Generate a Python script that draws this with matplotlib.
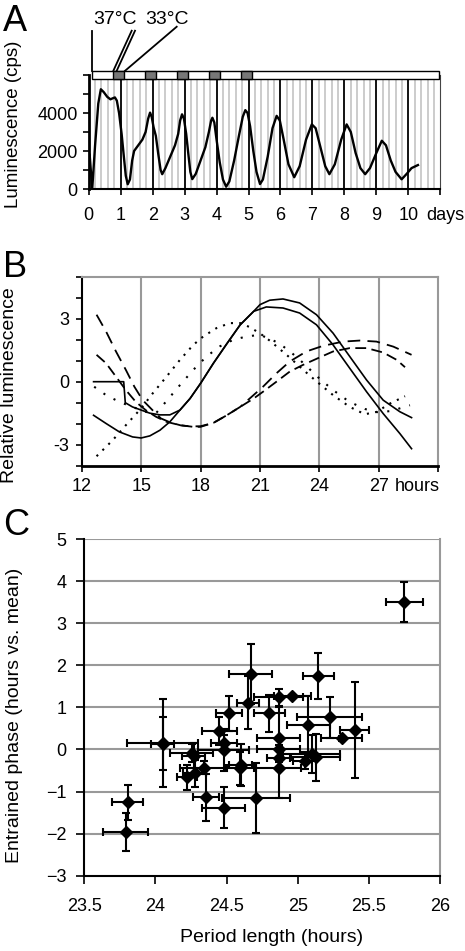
import numpy as np
import matplotlib
matplotlib.use("Agg")
import matplotlib.pyplot as plt
from matplotlib.patches import Rectangle

plt.rcParams['font.family'] = ['Liberation Sans', 'DejaVu Sans']

# ---- panel A: luminescence trace (days, cps)
days = [0.03, 0.11, 0.2, 0.3, 0.38, 0.47, 0.58, 0.68, 0.76, 0.82, 0.88, 0.95,
        1.03, 1.1, 1.16, 1.22, 1.29, 1.36, 1.42, 1.55, 1.68, 1.78, 1.86, 1.92,
        1.97, 2.03, 2.1, 2.18, 2.25, 2.3, 2.4, 2.55, 2.7, 2.8, 2.86, 2.92, 2.98,
        3.05, 3.12, 3.18, 3.24, 3.35, 3.5, 3.65, 3.76, 3.83, 3.87, 3.93, 4.0,
        4.1, 4.2, 4.3, 4.4, 4.55, 4.7, 4.82, 4.9, 4.97, 5.05, 5.15, 5.25, 5.36,
        5.45, 5.6, 5.75, 5.88, 5.98, 6.1, 6.25, 6.43, 6.6, 6.8, 6.98, 7.1, 7.25,
        7.4, 7.53, 7.7, 7.9, 8.07, 8.2, 8.35, 8.5, 8.65, 8.8, 9.0, 9.17, 9.3,
        9.45, 9.6, 9.79, 9.95, 10.1, 10.3]
lum = [1800, 0, 2300, 4500, 5250, 5100, 4850, 4720, 4780, 4820, 4650, 4000,
       2900, 1700, 700, 250, 500, 1500, 2000, 2300, 2600, 3000, 3700, 4020,
       3800, 3250, 2800, 1800, 1000, 780, 1100, 1700, 2300, 2900, 3600, 3930, 3700,
       2900, 1800, 900, 520, 800, 1500, 2200, 3000, 3600, 3750, 3500, 2600,
       1400, 500, 120, 400, 1500, 2800, 3800, 4150, 4000, 3300, 2000, 900, 260,
       500, 1700, 3200, 3850, 3600, 2600, 1300, 620, 1200, 2600, 3400, 3200, 2200,
       1200, 780, 1300, 2600, 3400, 3000, 1900, 1100, 780, 1100, 1900, 2540, 2300,
       1500, 900, 510, 800, 1100, 1260]
warm_start = [0.76, 1.76, 2.76, 3.76, 4.76]   # 37 C pulses (days)
warm_len = 0.36

# ---- panel B: relative luminescence traces (hours)
s1_t = [12.6, 14.12, 14.2, 14.56, 15.0, 15.44, 15.95, 16.45, 16.96, 17.47, 18.0, 18.65,
        19.32, 20.0, 20.68, 21.0, 21.49, 22.16, 23.0, 23.85, 24.69, 25.53, 26.38,
        27.22, 28.06, 28.65]
s1_y = [0.0, 0.0, -1.0, -1.2, -1.35, -1.5, -1.58, -1.58, -1.35, -0.8, -0.08, 0.88,
        1.8, 2.71, 3.35, 3.67, 3.88, 3.94, 3.75, 3.19, 2.31, 1.2, 0.08,
        -0.88, -1.43, -1.71]
s2_t = [12.6, 13.23, 13.9, 14.57, 15.0, 15.44, 15.95, 16.45, 16.96, 17.47, 18.0, 18.65,
        19.32, 20.0, 20.68, 21.32, 22.16, 23.0, 23.85, 24.69, 25.53, 26.38, 27.22,
        28.06, 28.65]
s2_y = [-1.6, -1.99, -2.39, -2.63, -2.68, -2.58, -2.31, -1.91, -1.35, -0.8, -0.08, 0.88,
        1.8, 2.71, 3.35, 3.56, 3.51, 3.27, 2.71, 1.75, 0.64, -0.48, -1.52,
        -2.47, -3.19]
d1_t = [12.75, 13.56, 14.23, 15.0, 15.58, 16.28, 16.96, 17.63, 18.13, 18.8, 19.47, 20.0,
        20.48, 21.0, 21.5, 22.0, 22.5, 23.0, 23.5, 24.0, 24.69, 25.53, 26.29, 26.88,
        27.56, 28.32]
d1_y = [-3.55, -2.79, -2.07, -1.27, -0.56, 0.24, 1.04, 1.75, 2.15, 2.55, 2.79, 2.79,
        2.6, 2.3, 1.95, 1.55, 1.15, 0.72, 0.3, -0.1, -0.64, -1.2, -1.55, -1.44,
        -1.04, -0.69]
d2_t = [12.63, 13.23, 13.9, 14.56, 15.24, 15.75, 16.3, 16.96, 17.63, 18.3, 18.97, 19.64,
        20.3, 20.97, 21.5, 22.0, 22.5, 23.0, 23.5, 24.0, 24.69, 25.5, 26.3, 26.9,
        27.6, 28.57]
d2_y = [-0.24, -0.64, -0.96, -1.2, -1.44, -1.5, -0.9, -0.16, 0.56, 1.2, 1.68, 1.99,
        2.15, 2.23, 2.05, 1.8, 1.45, 1.05, 0.6, 0.15, -0.4, -0.95, -1.3, -1.45,
        -1.4, -1.12]
l1_t = [12.75, 13.23, 13.73, 14.23, 14.66, 15.08, 15.58, 16.0, 16.5, 17.0, 17.5, 18.0,
        18.65, 19.32, 20.0, 20.48, 21.15, 21.83, 22.5, 23.34, 24.19, 25.2, 26.04,
        26.88, 27.73, 28.65]
l1_y = [3.19, 2.39, 1.44, 0.56, -0.24, -0.88, -1.36, -1.75, -1.95, -2.08, -2.13, -2.12,
        -1.96, -1.6, -1.2, -0.8, -0.24, 0.4, 0.96, 1.44, 1.71, 1.91, 1.96,
        1.91, 1.67, 1.28]
l2_t = [12.75, 13.23, 13.73, 14.23, 14.73, 15.24, 15.75, 16.28, 16.96, 17.63, 18.0, 18.65,
        19.32, 20.0, 20.68, 21.15, 21.83, 22.5, 23.17, 24.02, 24.69, 25.53, 26.38,
        27.22, 27.9, 28.32]
l2_y = [1.28, 0.88, 0.24, -0.4, -0.96, -1.36, -1.67, -1.91, -2.07, -2.15, -2.15, -1.96,
        -1.6, -1.2, -0.8, -0.48, 0.0, 0.48, 0.8, 1.16, 1.44, 1.6, 1.6,
        1.39, 1.04, 0.69]

# ---- panel C: period vs entrained phase, with SEM
period = [25.75, 24.67, 25.145, 24.865, 24.96, 24.65, 24.515, 24.80, 25.225, 25.075,
          25.40, 25.31, 24.45, 24.865, 24.05, 24.05, 24.48, 24.48, 24.255, 24.27,
          24.22, 24.275, 24.34, 24.355, 24.48, 24.705, 23.805, 23.79, 24.60, 24.595,
          24.865, 24.865, 24.865, 25.05, 25.10, 25.125]
phase = [3.50, 1.80, 1.74, 1.235, 1.26, 1.11, 0.855, 0.855, 0.76, 0.575,
         0.455, 0.26, 0.435, 0.26, 0.15, 0.14, 0.15, -0.02, -0.09, -0.15,
         -0.665, -0.57, -0.43, -1.14, -1.385, -1.16, -1.26, -1.97, -0.36, -0.45,
         0.0, -0.2, -0.45, -0.27, -0.10, -0.19]
period_err = [0.13, 0.15, 0.11, 0.17, 0.13, 0.08, 0.09, 0.11, 0.23, 0.15,
              0.10, 0.145, 0.12, 0.15, 0.25, 0.08, 0.09, 0.18, 0.15, 0.08,
              0.07, 0.08, 0.165, 0.09, 0.15, 0.24, 0.11, 0.16, 0.08, 0.10,
              0.15, 0.08, 0.16, 0.08, 0.20, 0.17]
phase_err = [0.48, 0.71, 0.55, 0.21, 0.03, 0.63, 0.42, 0.43, 0.49, 0.70,
             1.14, 0.05, 0.33, 0.75, 1.05, 0.63, 0.20, 0.50, 0.22, 0.30,
             0.30, 0.32, 0.15, 0.55, 0.49, 0.83, 0.42, 0.45, 0.50, 0.40,
             0.30, 0.30, 0.70, 0.20, 0.45, 0.55]

W, H = 465, 951
fig = plt.figure(figsize=(W / 100, H / 100), dpi=100)

def box(l, t, r, b):
    return [l / W, 1 - b / H, (r - l) / W, (b - t) / H]

tick_fs = 13
lab_fs = 14

# ================= A
axA = fig.add_axes(box(88.7, 75, 440.3, 189))
axA.set_xlim(0, 11)
axA.set_ylim(0, 6000)
for d in np.arange(0.2, 11, 0.2):
    if abs(d - round(d)) > 0.01:
        axA.axvline(d, color='#c8c8c8', lw=1.3, zorder=1)
for d in range(1, 11):
    axA.axvline(d, color='black', lw=1.3, zorder=2)
axA.plot(days, lum, color='black', lw=1.7, zorder=3)
axA.add_patch(Rectangle((0.11, 5780), 10.84, 440, fc='white', ec='black',
                        lw=1, clip_on=False, zorder=5))
for s in warm_start:
    axA.add_patch(Rectangle((s, 5780), warm_len, 440, fc='#777777', ec='black',
                            lw=1, clip_on=False, zorder=6))
axA.spines['top'].set_visible(False)
axA.spines['right'].set_color('#444444')
axA.spines['left'].set_linewidth(2)
axA.spines['bottom'].set_linewidth(1.5)
axA.set_yticks(range(0, 7000, 1000))
axA.set_yticklabels(['0', '', '2000', '', '4000', '', ''])
axA.set_xticks(range(0, 12))
axA.set_xticklabels([str(i) for i in range(11)] + [''])
axA.tick_params(labelsize=tick_fs, length=4, width=1.2, pad=4)
axA.tick_params(axis='x', pad=9)
axA.annotate('days', xy=(10.55, 0), xycoords=('data', 'axes fraction'),
             xytext=(0, -13), textcoords='offset points',
             fontsize=tick_fs, ha='left', va='top', annotation_clip=False)
# temperature annotations
kw = dict(color='black', lw=1.3, clip_on=False)
axA.plot([0.094, 0.094], [8330, 6220], **kw)
axA.plot([1.345, 0.77], [8330, 6220], **kw)
axA.plot([1.449, 0.876], [8330, 6220], **kw)
axA.plot([2.753, 1.136], [8540, 6220], **kw)
axA.text(0.824, 8895, '37°C', fontsize=lab_fs, ha='center', va='center')
axA.text(2.45, 8895, '33°C', fontsize=lab_fs, ha='center', va='center')

# ================= B
axB = fig.add_axes(box(81.7, 276.7, 438.3, 465.7))
axB.set_xlim(12, 30)
axB.set_ylim(-4, 5)
for h in range(15, 30, 3):
    axB.axvline(h, color='#999999', lw=1.5, zorder=1)
axB.plot(s1_t, s1_y, color='black', lw=1.2)
axB.plot(s2_t, s2_y, color='black', lw=1.2)
axB.plot(d1_t, d1_y, color='black', lw=1.5, linestyle=(0, (1, 3)))
axB.plot(d2_t, d2_y, color='black', lw=1.5, linestyle=(0, (1, 4.5)))
axB.plot(l1_t, l1_y, color='black', lw=1.3, linestyle=(0, (7, 4)))
axB.plot(l2_t, l2_y, color='black', lw=1.3, linestyle=(0, (6, 3)))
for sp in ['top', 'right']:
    axB.spines[sp].set_color('#999999')
    axB.spines[sp].set_linewidth(1.5)
axB.spines['left'].set_linewidth(1.5)
axB.spines['bottom'].set_linewidth(2)
axB.set_yticks(range(-4, 6))
axB.set_yticklabels(['3' if v == 3 else '0' if v == 0 else '-3' if v == -3 else ''
                     for v in range(-4, 6)])
axB.set_xticks(range(12, 31, 3))
axB.set_xticklabels(['12', '15', '18', '21', '24', '27', ''])
axB.tick_params(labelsize=tick_fs, length=4, width=1.2, pad=5)
axB.annotate('hours', xy=(27.81, 0), xycoords=('data', 'axes fraction'),
             xytext=(0, -9), textcoords='offset points',
             fontsize=tick_fs, ha='left', va='top', annotation_clip=False)

# ================= C
axC = fig.add_axes(box(84.3, 539, 440, 875.7))
axC.set_xlim(23.5, 26)
axC.set_ylim(-3, 5)
for v in range(-2, 6):
    axC.axhline(v, color='#999999', lw=1.5, zorder=1)
axC.errorbar(period, phase, xerr=period_err, yerr=phase_err, fmt='D',
             color='black', ms=6.5, elinewidth=1.5, capsize=3, capthick=1.5,
             zorder=3)
axC.spines['top'].set_visible(False)
axC.spines['right'].set_color('#999999')
axC.spines['right'].set_linewidth(1.5)
axC.spines['left'].set_linewidth(1.5)
axC.spines['bottom'].set_linewidth(1.5)
axC.set_xticks([23.5, 24, 24.5, 25, 25.5, 26])
axC.set_xticklabels(['23.5', '24', '24.5', '25', '25.5', '26'])
axC.set_yticks(range(-3, 6))
axC.tick_params(labelsize=tick_fs, length=6, width=1.2)
axC.tick_params(axis='x', pad=10)
axC.tick_params(axis='y', pad=7)

# labels
fig.text(14 / W, 1 - 124 / H, 'Luminescence (cps)', rotation=90, fontsize=13.5,
         ha='center', va='center')
fig.text(10 / W, 1 - 385 / H, 'Relative luminescence', rotation=90, fontsize=lab_fs,
         ha='center', va='center')
fig.text(15 / W, 1 - 715 / H, 'Entrained phase (hours vs. mean)', rotation=90,
         fontsize=lab_fs, ha='center', va='center')
fig.text(272 / W, 1 - 938 / H, 'Period length (hours)', fontsize=lab_fs,
         ha='center', va='center')
for letter, yb in [('A', 31), ('B', 277), ('C', 535)]:
    fig.text(3 / W, 1 - yb / H, letter, fontsize=26, ha='left', va='baseline')

fig.savefig('out.png', dpi=100)
